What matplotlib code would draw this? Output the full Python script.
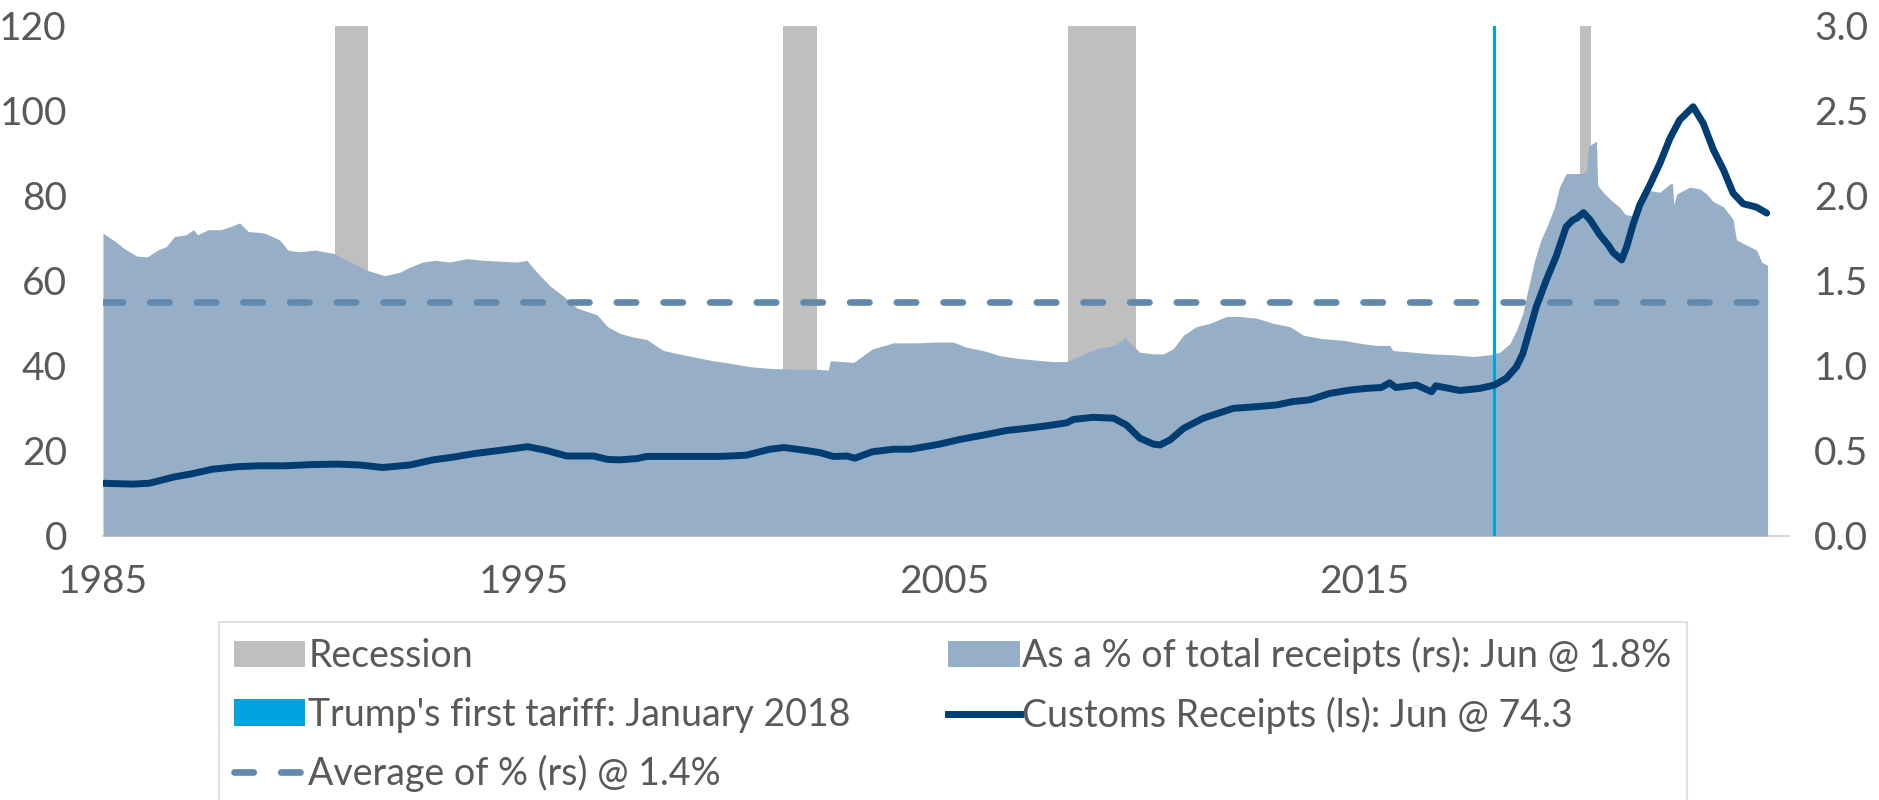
import matplotlib
matplotlib.use('Agg')
import matplotlib.pyplot as plt
from matplotlib.patches import Patch
from matplotlib.lines import Line2D
from matplotlib.ticker import FormatStrFormatter

plt.rcParams['font.family'] = ['Lato', 'DejaVu Sans']

# ---------------- data ----------------
# Recession periods (decimal years)
rec_start = [1990.52, 2001.18, 2007.94, 2020.12]
rec_end = [1991.31, 2001.99, 2009.58, 2020.40]

# Trump's first tariff
tariff_date = 2018.08

# Customs receipts as a % of total receipts (right scale)
area_t = [1985.0, 1985.3, 1985.5, 1985.8, 1986.05, 1986.3, 1986.5, 1986.7, 1986.97, 1987.15,
          1987.25, 1987.5, 1987.8, 1988.05, 1988.25, 1988.45, 1988.85, 1989.2, 1989.4, 1989.65,
          1990.05, 1990.5, 1990.8, 1991.1, 1991.3, 1991.7, 1992.06, 1992.3, 1992.6, 1992.9,
          1993.25, 1993.65, 1994.05, 1994.45, 1994.85, 1995.08, 1995.32, 1995.63, 1995.95, 1996.27,
          1996.75, 1997.0, 1997.3, 1997.6, 1997.93, 1998.33, 1998.7, 1999.1, 1999.5, 1999.8,
          2000.39, 2000.86, 2001.5, 2001.97, 2002.25, 2002.3, 2002.85, 2003.08, 2003.3, 2003.8,
          2004.35, 2004.83, 2005.22, 2005.53, 2005.93, 2006.33, 2006.73, 2007.12, 2007.6, 2007.92,
          2008.24, 2008.63, 2009.03, 2009.25, 2009.3, 2009.45, 2009.66, 2009.98, 2010.22, 2010.45,
          2010.7, 2011.0, 2011.33, 2011.72, 2012.04, 2012.44, 2012.83, 2013.23, 2013.55, 2014.0,
          2014.5, 2014.97, 2015.29, 2015.6, 2015.68, 2016.16, 2016.63, 2017.11, 2017.59, 2017.98,
          2018.22, 2018.46, 2018.62, 2018.77, 2018.93, 2019.05, 2019.2, 2019.36, 2019.52, 2019.64,
          2019.8, 2020.13, 2020.28, 2020.33, 2020.52, 2020.55, 2020.68, 2020.88, 2021.08, 2021.2,
          2021.4, 2021.55, 2021.79, 2022.03, 2022.27, 2022.33, 2022.36, 2022.43, 2022.74, 2022.98,
          2023.14, 2023.3, 2023.54, 2023.77, 2023.85, 2024.09, 2024.33, 2024.45, 2024.59]
area_pct = [1.78, 1.73, 1.69, 1.645, 1.64, 1.68, 1.70, 1.76, 1.77, 1.80,
            1.77, 1.80, 1.80, 1.82, 1.84, 1.79, 1.78, 1.74, 1.68, 1.67,
            1.68, 1.66, 1.62, 1.585, 1.56, 1.53, 1.55, 1.58, 1.61, 1.62,
            1.61, 1.63, 1.62, 1.615, 1.61, 1.62, 1.55, 1.47, 1.41, 1.34,
            1.30, 1.23, 1.19, 1.17, 1.155, 1.09, 1.07, 1.05, 1.03, 1.02,
            0.995, 0.985, 0.98, 0.98, 0.975, 1.03, 1.02, 1.06, 1.10, 1.135,
            1.135, 1.14, 1.14, 1.11, 1.09, 1.06, 1.045, 1.035, 1.025, 1.025,
            1.06, 1.10, 1.12, 1.15, 1.17, 1.13, 1.08, 1.07, 1.07, 1.10,
            1.18, 1.23, 1.25, 1.29, 1.29, 1.28, 1.25, 1.23, 1.18, 1.16,
            1.15, 1.13, 1.12, 1.12, 1.09, 1.08, 1.07, 1.065, 1.055, 1.065,
            1.08, 1.13, 1.21, 1.31, 1.49, 1.62, 1.74, 1.83, 1.93, 2.05,
            2.13, 2.13, 2.14, 2.29, 2.32, 2.06, 2.02, 1.97, 1.93, 1.89,
            1.88, 1.97, 2.03, 2.02, 2.07, 2.07, 1.945, 2.01, 2.05, 2.04,
            2.01, 1.965, 1.935, 1.86, 1.74, 1.71, 1.68, 1.61, 1.59]

# Average of % (right scale)
avg_pct = 1.375

# Customs receipts, 12-month sum, $bn (left scale)
line_t = [1985.0, 1985.7, 1986.1, 1986.7, 1987.1, 1987.6, 1988.2, 1988.7, 1989.3, 1990.0,
          1990.55, 1991.1, 1991.65, 1992.3, 1992.85, 1993.3, 1993.85, 1994.5, 1995.1, 1995.55,
          1996.03, 1996.67, 1997.0, 1997.3, 1997.7, 1997.93, 1998.5, 1999.2, 1999.67, 2000.3,
          2000.86, 2001.2, 2001.73, 2002.05, 2002.37, 2002.7, 2002.88, 2003.3, 2003.8, 2004.2,
          2004.67, 2004.9, 2005.38, 2005.93, 2006.49, 2006.96, 2007.44, 2007.92, 2008.08, 2008.55,
          2009.03, 2009.34, 2009.66, 2009.98, 2010.14, 2010.38, 2010.7, 2011.17, 2011.88, 2012.44,
          2012.91, 2013.3, 2013.7, 2014.17, 2014.65, 2015.05, 2015.4, 2015.6, 2015.75, 2016.24,
          2016.6, 2016.7, 2017.27, 2017.75, 2018.1, 2018.38, 2018.62, 2018.77, 2018.93, 2019.09,
          2019.33, 2019.56, 2019.8, 2019.96, 2020.05, 2020.21, 2020.37, 2020.6, 2020.8, 2020.92,
          2021.12, 2021.24, 2021.4, 2021.55, 2021.79, 2022.03, 2022.27, 2022.5, 2022.82, 2023.06,
          2023.3, 2023.54, 2023.77, 2024.01, 2024.33, 2024.57]
line_val = [12.4, 12.2, 12.4, 13.9, 14.6, 15.7, 16.3, 16.5, 16.5, 16.8,
            16.9, 16.7, 16.1, 16.7, 17.9, 18.5, 19.4, 20.2, 21.0, 20.1,
            18.8, 18.8, 18.0, 17.9, 18.2, 18.7, 18.7, 18.7, 18.7, 19.0,
            20.4, 20.8, 20.1, 19.6, 18.7, 18.8, 18.3, 19.8, 20.4, 20.4,
            21.2, 21.6, 22.7, 23.7, 24.8, 25.3, 25.9, 26.6, 27.4, 27.9,
            27.7, 26.1, 23.0, 21.6, 21.4, 22.6, 25.3, 27.7, 30.0, 30.4,
            30.8, 31.6, 32.0, 33.5, 34.3, 34.7, 34.9, 36.0, 34.9, 35.5,
            33.9, 35.3, 34.2, 34.7, 35.5, 37.1, 39.8, 42.9, 48.4, 53.9,
            60.2, 65.7, 72.7, 74.3, 74.7, 76.0, 74.3, 70.8, 68.4, 66.6,
            64.9, 68.0, 73.5, 77.8, 82.5, 87.6, 93.5, 97.8, 100.9, 97.0,
            90.8, 86.1, 80.6, 78.1, 77.3, 75.9]

x_ticks = [1985, 1995, 2005, 2015]
left_ticks = [0, 20, 40, 60, 80, 100, 120]
right_ticks = [0.0, 0.5, 1.0, 1.5, 2.0, 2.5, 3.0]

labels = {
    'rec': 'Recession',
    'tariff': "Trump's first tariff: January 2018",
    'avg': 'Average of % (rs) @ 1.4%',
    'area': 'As a % of total receipts (rs): Jun @ 1.8%',
    'line': 'Customs Receipts (ls): Jun @ 74.3',
}

# ---------------- styling ----------------
REC = '#BFBFBF'
AREA = '#96AFC6'
DASH = '#6189AE'
NAVY = '#003D73'
BLUE = '#00A3E0'
TXT = '#595959'
FS = 28
LINE_W = 5.0

W, H = 1879, 800
fig = plt.figure(figsize=(W / 100, H / 100), dpi=100)
ax_r = fig.add_axes([103 / W, 1 - 536 / H, (1789 - 103) / W, (536 - 25.5) / H])
ax_l = ax_r.twinx()
ax_r.yaxis.tick_right()
ax_l.yaxis.tick_left()

# right-scale layer (drawn underneath)
for s, e in zip(rec_start, rec_end):
    ax_r.axvspan(s, e, color=REC, lw=0, zorder=1)
ax_r.fill_between(area_t, 0, area_pct, color=AREA, lw=0, zorder=2)
ax_r.plot([area_t[0], area_t[-1]], [avg_pct, avg_pct], color=DASH, lw=4.8,
          dashes=(2.9, 4.1), dash_capstyle='round', zorder=3)

# left-scale layer (on top)
ax_l.axvline(tariff_date, color=BLUE, lw=2.2, zorder=4)
ax_l.plot(line_t, line_val, color=NAVY, lw=LINE_W, solid_capstyle='round',
          solid_joinstyle='round', zorder=5)

ax_r.set_xlim(1985, 2025.1)
ax_r.set_ylim(0, 3)
ax_l.set_ylim(0, 120)

ax_r.set_xticks(x_ticks)
ax_r.set_yticks(right_ticks)
ax_r.yaxis.set_major_formatter(FormatStrFormatter('%.1f'))
ax_l.set_yticks(left_ticks)

for ax in (ax_r, ax_l):
    for sp in ax.spines.values():
        sp.set_visible(False)
ax_r.spines['bottom'].set_visible(True)
ax_r.spines['bottom'].set_color('#D9D9D9')
ax_r.spines['bottom'].set_linewidth(1.5)
ax_r.spines['bottom'].set_zorder(0)

ax_r.tick_params(axis='x', length=0, labelsize=FS, labelcolor=TXT, pad=20)
ax_r.tick_params(axis='y', length=0, labelsize=FS, labelcolor=TXT, pad=18)
ax_l.tick_params(axis='y', length=0, labelsize=FS, labelcolor=TXT, pad=26)

handles = [
    Patch(facecolor=REC, edgecolor='none', label=labels['rec']),
    Patch(facecolor=BLUE, edgecolor='none', label=labels['tariff']),
    Line2D([], [], color=DASH, lw=4.8, dashes=(2.9, 4.1), dash_capstyle='round', label=labels['avg']),
    Patch(facecolor=AREA, edgecolor='none', label=labels['area']),
    Line2D([], [], color=NAVY, lw=LINE_W, label=labels['line']),
]
leg = fig.legend(handles=handles, ncol=2, loc='upper left',
                 bbox_to_anchor=(219 / W, 1 - 622 / H), borderaxespad=0,
                 fontsize=27, frameon=True, fancybox=False, edgecolor='#D9D9D9',
                 handlelength=1.9, handletextpad=0.08, columnspacing=2.6,
                 labelspacing=0.6, borderpad=0.4)
leg.get_frame().set_linewidth(1.5)
for t in leg.get_texts():
    t.set_color(TXT)

fig.savefig('out.png', dpi=100, facecolor='white')
